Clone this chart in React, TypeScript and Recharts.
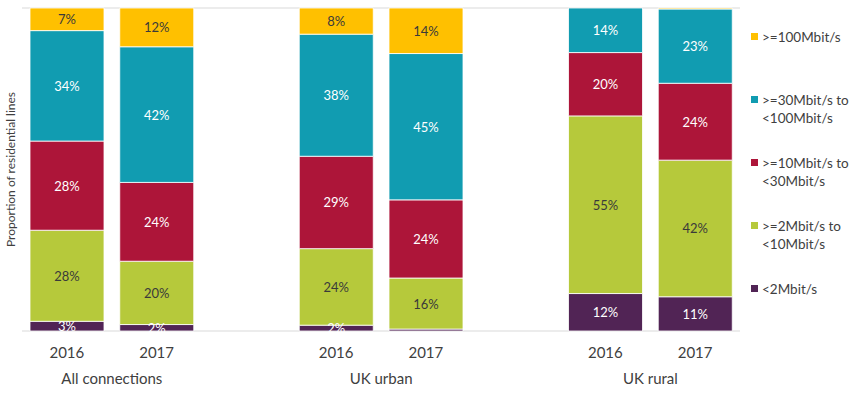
import { BarChart, Bar, XAxis, YAxis, CartesianGrid, Legend, LabelList } from 'recharts';

const slots = ['all16', 'all17', 'gapA', 'urb16', 'urb17', 'gapB', 'rur16', 'rur17'];
const years = ['2016', '2017', '', '2016', '2017', '', '2016', '2017'];
const groups = ['All connections', '', '', 'UK urban', '', '', 'UK rural', ''];

// share of residential lines (%), one value per slot
const below2 = [3, 2, null, 1.8, 0.6, null, 11.6, 10.6];
const from2to10 = [28.2, 19.6, null, 23.7, 15.8, null, 55.0, 42.3];
const from10to30 = [27.6, 24.4, null, 28.6, 24.2, null, 19.6, 23.8];
const from30to100 = [34.2, 42.0, null, 37.8, 45.3, null, 13.8, 23.0];
const above100 = [7, 12, null, 8.1, 14.1, null, 0, 0.3];

const series = [
  { key: 'below2', name: '<2Mbit/s', lines: ['<2Mbit/s'], color: '#512455', text: '#ffffff' },
  { key: 'from2to10', name: '>=2Mbit/s to <10Mbit/s', lines: ['>=2Mbit/s to', '<10Mbit/s'], color: '#b6c93b', text: '#3a3a3a' },
  { key: 'from10to30', name: '>=10Mbit/s to <30Mbit/s', lines: ['>=10Mbit/s to', '<30Mbit/s'], color: '#ad1539', text: '#ffffff' },
  { key: 'from30to100', name: '>=30Mbit/s to <100Mbit/s', lines: ['>=30Mbit/s to', '<100Mbit/s'], color: '#119cb1', text: '#ffffff' },
  { key: 'above100', name: '>=100Mbit/s', lines: ['>=100Mbit/s'], color: '#ffc000', text: '#3a3a3a' },
];

const data = slots.map((slot, i) => ({
  slot,
  year: years[i],
  group: groups[i],
  below2: below2[i],
  from2to10: from2to10[i],
  from10to30: from10to30[i],
  from30to100: from30to100[i],
  above100: above100[i],
}));

const FONT = 'Lato, "Open Sans", sans-serif';
const TEXT = '#404040';

const AxisTick = (props: any) => {
  const { x, y, payload } = props;
  const i = slots.indexOf(payload.value);
  return (
    <g>
      <text x={x} y={y + 19} textAnchor="middle" fill={TEXT} fontSize={15} fontFamily={FONT}>
        {years[i]}
      </text>
      {groups[i] && (
        <text x={x + 45} y={y + 45} textAnchor="middle" fill={TEXT} fontSize={15} fontFamily={FONT}>
          {groups[i]}
        </text>
      )}
    </g>
  );
};

const makeLabel = (color: string) => (props: any) => {
  const { x, y, width, height, value } = props;
  if (value == null || value < 1) return null;
  return (
    <text
      x={x + width / 2}
      y={y + height / 2}
      textAnchor="middle"
      dominantBaseline="central"
      fill={color}
      fontSize={13}
      fontFamily={FONT}
    >
      {Math.round(value)}%
    </text>
  );
};

const LegendBox = () => (
  <div style={{ fontFamily: FONT, fontSize: 13.5, color: TEXT }}>
    {[...series].reverse().map((s) => (
      <div key={s.key} style={{ height: 63, position: 'relative' }}>
        <span
          style={{ position: 'absolute', left: 0, top: 5, width: 7, height: 7, background: s.color }}
        />
        {s.lines.map((ln, j) => (
          <div key={j} style={{ marginLeft: 11, height: 18, lineHeight: '18px', whiteSpace: 'nowrap' }}>
            {ln}
          </div>
        ))}
      </div>
    ))}
  </div>
);

export default function App() {
  return (
    <div style={{ position: 'absolute', left: 0, top: 0, width: 850, height: 394, background: '#fff' }}>
      <BarChart width={850} height={394} data={data} margin={{ top: 8, right: 110, bottom: 0, left: 0 }}>
        <CartesianGrid horizontal vertical={false} stroke="#d9d9d9" />
        <XAxis
          dataKey="slot"
          interval={0}
          tickLine={false}
          axisLine={false}
          height={63}
          tick={<AxisTick />}
        />
        <YAxis
          domain={[0, 100]}
          ticks={[0, 20, 40, 60, 80, 100]}
          tick={false}
          tickLine={false}
          axisLine={false}
          width={22}
          label={{
            value: 'Proportion of residential lines',
            angle: -90,
            position: 'center',
            fill: TEXT,
            fontSize: 12,
            fontFamily: FONT,
          }}
        />
        <Legend
          layout="vertical"
          align="center"
          verticalAlign="middle"
          content={<LegendBox />}
          wrapperStyle={{ left: 751, top: 28, width: 99 }}
        />
        {series.map((s) => (
          <Bar
            key={s.key}
            dataKey={s.key}
            name={s.name}
            stackId="a"
            fill={s.color}
            stroke="#ffffff"
            strokeWidth={0.8}
            barSize={74}
            isAnimationActive={false}
          >
            <LabelList dataKey={s.key} content={makeLabel(s.text)} />
          </Bar>
        ))}
      </BarChart>
    </div>
  );
}
